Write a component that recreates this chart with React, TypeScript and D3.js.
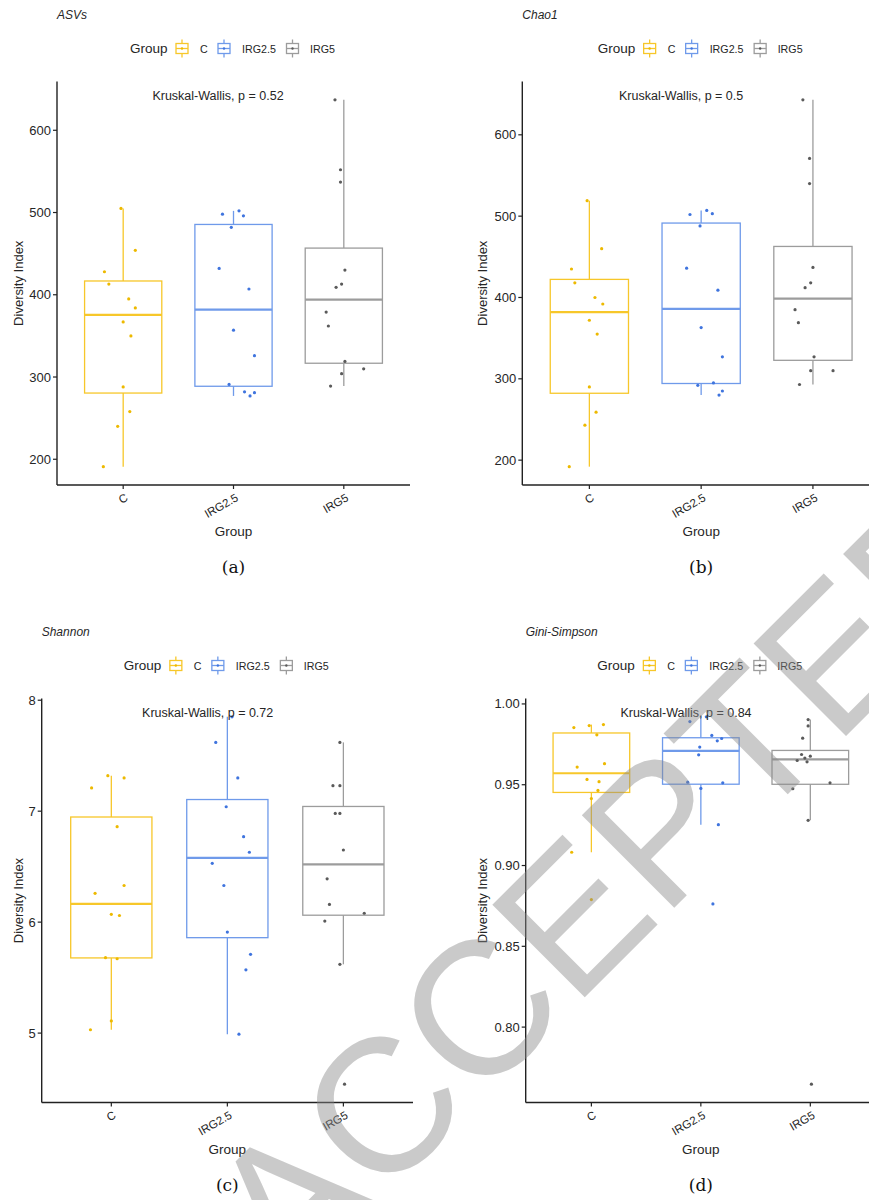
import React from "react";
import * as d3 from "d3";

// ---------- data ----------
const groups = ["C", "IRG2.5", "IRG5"];

// ASVs
const asvC = [505, 454, 428, 413, 395, 384, 367, 350, 288, 258, 240, 191];
const asvIRG25 = [502, 498, 496, 482, 432, 407, 357, 326, 291, 282, 281, 277];
const asvIRG5 = [637, 552, 537, 430, 413, 409, 379, 362, 319, 310, 304, 289];
const asvJitC = [-0.02, 0.11, -0.17, -0.13, 0.05, 0.11, 0.0, 0.07, 0.0, 0.06, -0.05, -0.18];
const asvJitIRG25 = [0.05, -0.1, 0.09, -0.02, -0.13, 0.14, 0.0, 0.19, -0.04, 0.1, 0.19, 0.15];
const asvJitIRG5 = [-0.08, -0.03, -0.03, 0.01, -0.02, -0.07, -0.16, -0.14, 0.01, 0.18, -0.02, -0.12];

// Chao1
const chaoC = [519, 460, 435, 418, 400, 392, 372, 355, 290, 259, 243, 192];
const chaoIRG25 = [507, 503, 502, 488, 436, 409, 363, 327, 295, 292, 285, 280];
const chaoIRG5 = [643, 571, 540, 437, 418, 412, 385, 369, 327, 310, 310, 293];
const chaoJitC = [-0.02, 0.11, -0.16, -0.13, 0.05, 0.12, 0.0, 0.07, 0.0, 0.06, -0.04, -0.18];
const chaoJitIRG25 = [0.05, 0.1, -0.1, -0.01, -0.13, 0.15, 0.0, 0.19, 0.11, -0.03, 0.19, 0.16];
const chaoJitIRG5 = [-0.09, -0.03, -0.03, 0.0, -0.02, -0.07, -0.16, -0.13, 0.01, -0.02, 0.18, -0.12];

// Shannon
const shanC = [7.32, 7.3, 7.21, 6.86, 6.33, 6.26, 6.07, 6.06, 5.68, 5.67, 5.11, 5.03];
const shanIRG25 = [7.85, 7.62, 7.3, 7.04, 6.77, 6.63, 6.53, 6.33, 5.91, 5.71, 5.57, 4.99];
const shanIRG5 = [7.62, 7.23, 7.23, 6.98, 6.98, 6.65, 6.39, 6.16, 6.08, 6.01, 5.62, 4.54];
const shanJitC = [-0.03, 0.11, -0.17, 0.05, 0.11, -0.14, 0.0, 0.07, -0.05, 0.05, 0.0, -0.18];
const shanJitIRG25 = [0.04, -0.1, 0.09, -0.01, 0.14, 0.19, -0.13, -0.03, 0.0, 0.2, 0.16, 0.1];
const shanJitIRG5 = [-0.03, -0.09, -0.03, -0.07, -0.03, 0.0, -0.14, -0.12, 0.18, -0.16, -0.03, 0.01];

// Gini-Simpson
const giniC = [0.9872, 0.9866, 0.9854, 0.9809, 0.963, 0.9609, 0.9533, 0.9519, 0.9465, 0.9414, 0.9082, 0.8789];
const giniIRG25 = [0.992, 0.9891, 0.9805, 0.9786, 0.9772, 0.9733, 0.9685, 0.9516, 0.9512, 0.9477, 0.9253, 0.8762];
const giniIRG5 = [0.9903, 0.9864, 0.9788, 0.9687, 0.9677, 0.9665, 0.965, 0.9642, 0.9512, 0.9475, 0.928, 0.7647];
const giniJitC = [0.11, -0.02, -0.16, 0.05, 0.12, -0.13, -0.04, 0.07, 0.06, 0.0, -0.18, 0.0];
const giniJitIRG25 = [0.05, -0.1, 0.1, 0.19, 0.15, -0.01, -0.02, -0.12, 0.2, 0.0, 0.16, 0.11];
const giniJitIRG5 = [-0.02, -0.02, -0.07, -0.08, 0.0, -0.05, -0.12, -0.03, 0.18, -0.16, -0.02, 0.01];

const titles = ["ASVs", "Chao1", "Shannon", "Gini-Simpson"];
const pValues = ["0.52", "0.5", "0.72", "0.84"];
const panelLabels = ["(a)", "(b)", "(c)", "(d)"];
const ticksASV = [200, 300, 400, 500, 600];
const ticksChao = [200, 300, 400, 500, 600];
const ticksShannon = [5, 6, 7, 8];
const ticksGini = [0.8, 0.85, 0.9, 0.95, 1.0];
const watermark = "ACCEPTED";

// ---------- styles ----------
const lineColors = ["#F7C72A", "#6F9AEA", "#9C9C9C"];
const pointColors = ["#EDB900", "#3F74DE", "#5A5A5A"];
const SANS = "'Liberation Sans', Arial, sans-serif";
const SERIF = "'DejaVu Serif', serif";
const TXT = "#262626";

interface Panel {
  title: string;
  p: string;
  label: string;
  values: number[][];
  jitter: number[][];
  ticks: number[];
  fmt: (n: number) => string;
  x0: number;
  x1: number;
  y0: number;
  y1: number;
  yTitleX: number;
}

const panels: Panel[] = [
  {
    title: titles[0], p: pValues[0], label: panelLabels[0],
    values: [asvC, asvIRG25, asvIRG5], jitter: [asvJitC, asvJitIRG25, asvJitIRG5],
    ticks: ticksASV, fmt: d3.format("d"),
    x0: 57, x1: 410, y0: 81.5, y1: 485, yTitleX: 18,
  },
  {
    title: titles[1], p: pValues[1], label: panelLabels[1],
    values: [chaoC, chaoIRG25, chaoIRG5], jitter: [chaoJitC, chaoJitIRG25, chaoJitIRG5],
    ticks: ticksChao, fmt: d3.format("d"),
    x0: 522.3, x1: 880, y0: 81.5, y1: 485, yTitleX: 482,
  },
  {
    title: titles[2], p: pValues[2], label: panelLabels[2],
    values: [shanC, shanIRG25, shanIRG5], jitter: [shanJitC, shanJitIRG25, shanJitIRG5],
    ticks: ticksShannon, fmt: d3.format("d"),
    x0: 41.7, x1: 413, y0: 698.5, y1: 1102.5, yTitleX: 18,
  },
  {
    title: titles[3], p: pValues[3], label: panelLabels[3],
    values: [giniC, giniIRG25, giniIRG5], jitter: [giniJitC, giniJitIRG25, giniJitIRG5],
    ticks: ticksGini, fmt: d3.format(".2f"),
    x0: 525.7, x1: 876, y0: 698.5, y1: 1102.5, yTitleX: 482,
  },
];

function boxStats(vals: number[]) {
  const s = [...vals].sort(d3.ascending);
  const q1 = d3.quantileSorted(s, 0.25)!;
  const med = d3.quantileSorted(s, 0.5)!;
  const q3 = d3.quantileSorted(s, 0.75)!;
  const iqr = q3 - q1;
  const lo = d3.min(s.filter((v) => v >= q1 - 1.5 * iqr))!;
  const hi = d3.max(s.filter((v) => v <= q3 + 1.5 * iqr))!;
  return { q1, med, q3, lo, hi };
}

function LegendKey({ cx, cy, i }: { cx: number; cy: number; i: number }) {
  const c = lineColors[i];
  return (
    <g>
      <line x1={cx} x2={cx} y1={cy - 9} y2={cy + 9} stroke={c} strokeWidth={1.3} />
      <rect x={cx - 6} y={cy - 5} width={12} height={10} fill="#fff" stroke={c} strokeWidth={1.3} />
      <line x1={cx - 6} x2={cx + 6} y1={cy} y2={cy} stroke={c} strokeWidth={1.3} />
      <circle cx={cx} cy={cy} r={1.2} fill={pointColors[i]} />
    </g>
  );
}

function BoxPanel({ d }: { d: Panel }) {
  const all = d.values.flat();
  const mn = d3.min(all)!;
  const mx = d3.max(all)!;
  const pad = (mx - mn) * 0.05;
  const y = d3.scaleLinear().domain([mn - pad, mx + pad]).range([d.y1, d.y0]);
  const x = d3.scalePoint<string>().domain(groups).range([d.x0, d.x1]).padding(0.6);
  const step = x.step();
  const bw = step * 0.7;
  const cx = (d.x0 + d.x1) / 2;
  const ly = d.y0 - 33;

  return (
    <g>
      <text x={d.x0} y={d.y0 - 62.5} fontFamily={SANS} fontSize={12} fontStyle="italic" fill={TXT}>
        {d.title}
      </text>
      <g fontFamily={SANS} fill={TXT}>
        <text x={cx - 103.5} y={ly} dominantBaseline="central" fontSize={13.5}>Group</text>
        <LegendKey cx={cx - 51.5} cy={ly} i={0} />
        <text x={cx - 33.5} y={ly} dominantBaseline="central" fontSize={10.7}>{groups[0]}</text>
        <LegendKey cx={cx - 9.5} cy={ly} i={1} />
        <text x={cx + 8.5} y={ly} dominantBaseline="central" fontSize={10.7}>{groups[1]}</text>
        <LegendKey cx={cx + 59} cy={ly} i={2} />
        <text x={cx + 76.5} y={ly} dominantBaseline="central" fontSize={10.7}>{groups[2]}</text>
      </g>
      {groups.map((g, i) => {
        const st = boxStats(d.values[i]);
        const gx = x(g)!;
        const c = lineColors[i];
        return (
          <g key={g}>
            <line x1={gx} x2={gx} y1={y(st.hi)} y2={y(st.q3)} stroke={c} strokeWidth={1.3} />
            <line x1={gx} x2={gx} y1={y(st.q1)} y2={y(st.lo)} stroke={c} strokeWidth={1.3} />
            <rect x={gx - bw / 2} y={y(st.q3)} width={bw} height={y(st.q1) - y(st.q3)} fill="none" stroke={c} strokeWidth={1.3} />
            <line x1={gx - bw / 2} x2={gx + bw / 2} y1={y(st.med)} y2={y(st.med)} stroke={c} strokeWidth={2.2} />
          </g>
        );
      })}
      {groups.map((g, i) =>
        d.values[i].map((v, k) => (
          <circle key={g + k} cx={x(g)! + d.jitter[i][k] * step} cy={y(v)} r={1.6} fill={pointColors[i]} />
        ))
      )}
      <line x1={d.x0} x2={d.x0} y1={d.y0} y2={d.y1} stroke="#222" strokeWidth={1.4} />
      <line x1={d.x0} x2={d.x1} y1={d.y1} y2={d.y1} stroke="#222" strokeWidth={1.4} />
      {d.ticks.map((t) => (
        <g key={t}>
          <line x1={d.x0 - 4} x2={d.x0} y1={y(t)} y2={y(t)} stroke="#222" strokeWidth={1.2} />
          <text x={d.x0 - 6} y={y(t)} textAnchor="end" dominantBaseline="central" fontFamily={SANS} fontSize={13} fill={TXT}>
            {d.fmt(t)}
          </text>
        </g>
      ))}
      {groups.map((g) => (
        <g key={g}>
          <line x1={x(g)} x2={x(g)} y1={d.y1} y2={d.y1 + 4} stroke="#222" strokeWidth={1.2} />
          <text
            transform={`translate(${x(g)! + 3.5},${d.y1 + 11.5}) rotate(-30)`}
            textAnchor="end"
            dominantBaseline="central"
            fontFamily={SANS}
            fontSize={11.5}
            fill={TXT}
          >
            {g}
          </text>
        </g>
      ))}
      <text x={x(groups[0])! + 0.265 * step} y={d.y0 + 14.5} dominantBaseline="central" fontFamily={SANS} fontSize={12.5} fill={TXT}>
        {`Kruskal-Wallis, p = ${d.p}`}
      </text>
      <text x={cx} y={d.y1 + 51} textAnchor="middle" fontFamily={SANS} fontSize={13.5} fill={TXT}>Group</text>
      <text
        transform={`translate(${d.yTitleX},${(d.y0 + d.y1) / 2}) rotate(-90)`}
        textAnchor="middle"
        dominantBaseline="central"
        fontFamily={SANS}
        fontSize={13}
        fill={TXT}
      >
        Diversity Index
      </text>
      <text x={cx} y={d.y1 + 88} textAnchor="middle" fontFamily={SERIF} fontSize={17} fill="#111">
        {d.label}
      </text>
    </g>
  );
}

export default function App() {
  return (
    <svg
      width={869}
      height={1200}
      style={{ position: "absolute", left: 0, top: 0, background: "#fff" }}
      xmlns="http://www.w3.org/2000/svg"
    >
      <rect x={0} y={0} width={869} height={1200} fill="#fff" />
      {panels.map((p) => (
        <BoxPanel key={p.label} d={p} />
      ))}
      <text
        transform="translate(290,1292) rotate(-45)"
        fontFamily={SANS}
        fontSize={190}
        fill="#8a8a8a"
        fillOpacity={0.45}
        style={{ pointerEvents: "none" }}
      >
        {watermark}
      </text>
    </svg>
  );
}
